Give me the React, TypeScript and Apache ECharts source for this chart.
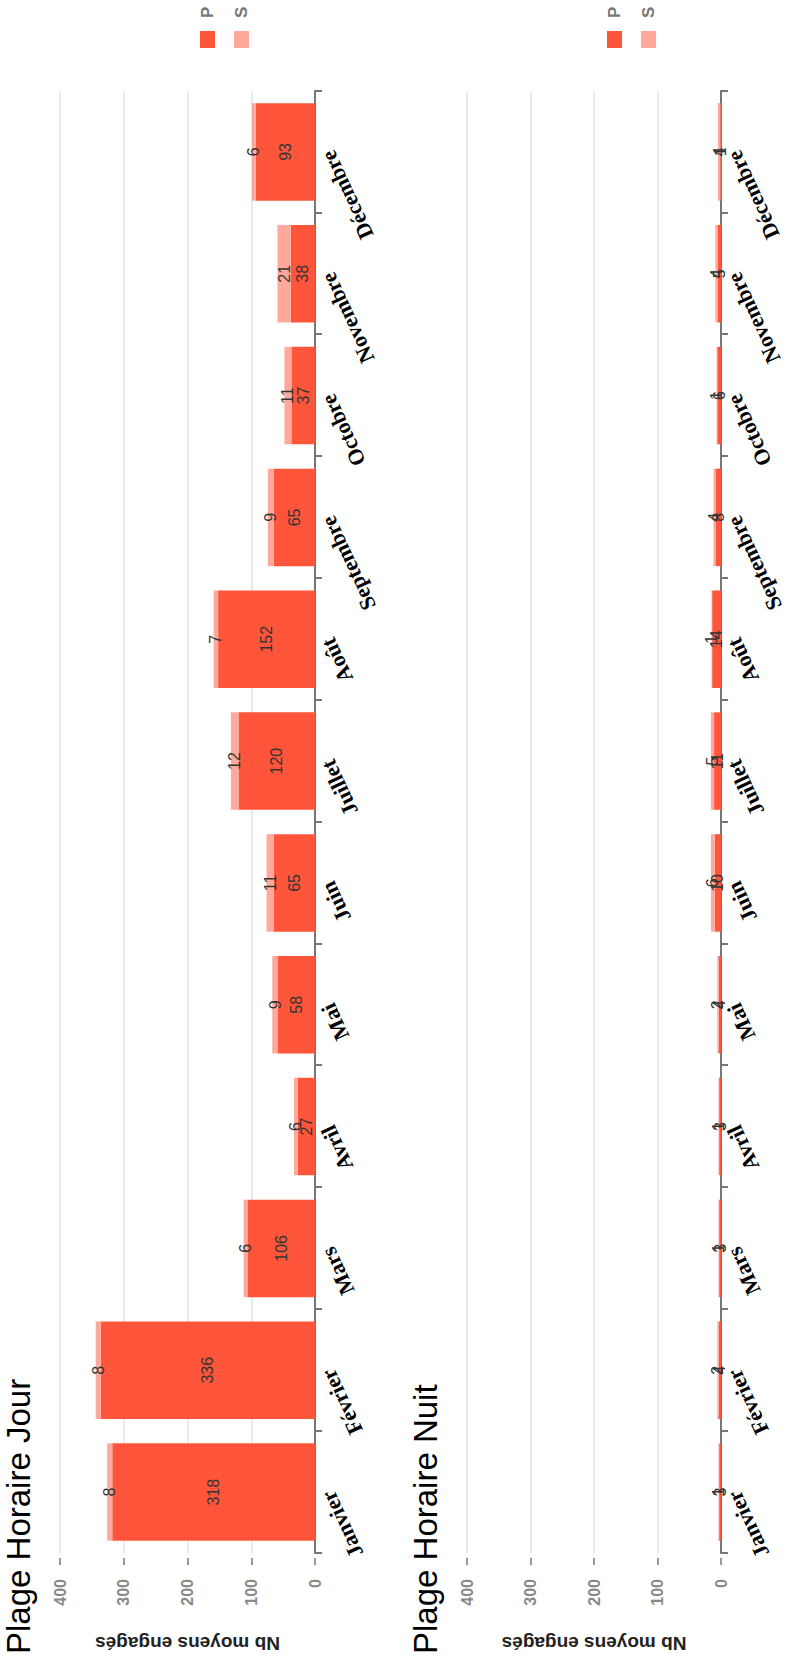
import React, { useEffect, useRef } from "react";
import * as echarts from "echarts";

// ---- data ----
const months = ["Janvier", "Février", "Mars", "Avril", "Mai", "Juin", "Juillet", "Août", "Septembre", "Octobre", "Novembre", "Décembre"];
const jourP = [318, 336, 106, 27, 58, 65, 120, 152, 65, 37, 38, 93];
const jourS = [8, 8, 6, 6, 9, 11, 12, 7, 9, 11, 21, 6];
const nuitP = [3, 4, 3, 3, 4, 10, 11, 14, 8, 6, 5, 1];
const nuitS = [1, 2, 1, 1, 2, 6, 5, 1, 4, 1, 4, 4];
const seriesNames = ["P", "S"];
const panelTitles = ["Plage Horaire Jour", "Plage Horaire Nuit"];
const valueAxisName = "Nb moyens engagés";
const valueMin = 0;
const valueMax = 400;
const valueInterval = 100;

// chart drawn in a 1664 x 787 frame, then turned a quarter turn
const W = 1664;
const H = 787;
const PANEL_OFFSET = 407;

const colorP = "#ff563b";
const colorS = "#ffa99c";

function buildOption() {
  const panels = [
    { p: jourP, s: jourS },
    { p: nuitP, s: nuitS },
  ];
  const grid: any[] = [];
  const xAxis: any[] = [];
  const yAxis: any[] = [];
  const series: any[] = [];
  const title: any[] = [];
  const legend: any[] = [];
  panels.forEach((panel, i) => {
    const off = i * PANEL_OFFSET;
    grid.push({ left: 111, right: 91, top: 60 + off, height: 255 });
    title.push({
      text: panelTitles[i],
      left: 10,
      top: 2 + off,
      padding: 0,
      textStyle: { fontFamily: "Liberation Sans, Arial, sans-serif", fontSize: 33, fontWeight: "normal", color: "#000" },
    });
    legend.push({
      data: seriesNames,
      orient: "vertical",
      left: 1616,
      top: 199 + off,
      padding: 0,
      itemWidth: 17,
      itemHeight: 15,
      itemGap: 17,
      icon: "rect",
      textStyle: {
        fontFamily: "Liberation Sans, Arial, sans-serif",
        fontSize: 17,
        fontWeight: "bold",
        color: "#777",
        lineHeight: 15,
        padding: [0, 0, 0, 8],
      },
    });
    xAxis.push({
      type: "category",
      gridIndex: i,
      data: months,
      boundaryGap: true,
      axisLine: { show: true, lineStyle: { color: "#777", width: 2 } },
      axisTick: { show: true, length: 7, alignWithLabel: false, lineStyle: { color: "#777", width: 2 } },
      axisLabel: {
        interval: 0,
        rotate: 25,
        margin: 12,
        fontFamily: "Liberation Serif, Times New Roman, serif",
        fontWeight: "bold",
        fontSize: 22,
        color: "#000",
      },
      splitLine: { show: false },
    });
    yAxis.push({
      type: "value",
      gridIndex: i,
      min: valueMin,
      max: valueMax,
      interval: valueInterval,
      offset: 5,
      name: valueAxisName,
      nameLocation: "middle",
      nameGap: 76,
      nameTextStyle: {
        fontFamily: "Liberation Sans, Arial, sans-serif",
        fontSize: 19,
        fontWeight: "bold",
        color: "#222",
      },
      axisLine: { show: false },
      axisTick: { show: true, length: 7, lineStyle: { color: "#999", width: 2 } },
      axisLabel: {
        margin: 21,
        fontFamily: "Liberation Sans, Arial, sans-serif",
        fontSize: 16,
        fontWeight: "bold",
        color: "#888",
      },
      splitLine: { show: true, lineStyle: { color: "#e3e3e3", width: 1.5 } },
    });
    const lbl = {
      show: true,
      position: "inside",
      color: "#333",
      fontFamily: "Liberation Sans, Arial, sans-serif",
      fontSize: 16,
    };
    series.push({
      type: "bar",
      name: seriesNames[0],
      stack: "st" + i,
      xAxisIndex: i,
      yAxisIndex: i,
      data: panel.p,
      barCategoryGap: "20%",
      itemStyle: { color: colorP },
      label: lbl,
    });
    series.push({
      type: "bar",
      name: seriesNames[1],
      stack: "st" + i,
      xAxisIndex: i,
      yAxisIndex: i,
      data: panel.s,
      barCategoryGap: "20%",
      itemStyle: { color: colorS },
      label: lbl,
    });
  });
  return {
    animation: false,
    backgroundColor: "#fff",
    title,
    legend,
    grid,
    xAxis,
    yAxis,
    series,
  };
}

export default function App() {
  const ref = useRef<HTMLDivElement>(null);
  useEffect(() => {
    if (!ref.current) return;
    const chart = echarts.init(ref.current, null, { renderer: "svg", width: W, height: H });
    chart.setOption(buildOption() as any);
    return () => chart.dispose();
  }, []);
  return (
    <div style={{ position: "absolute", left: 0, top: 0, width: H, height: W, overflow: "hidden", background: "#fff" }}>
      <div
        ref={ref}
        style={{
          position: "absolute",
          left: 0,
          top: 0,
          width: W,
          height: H,
          transformOrigin: "0 0",
          transform: `translate(0px, ${W}px) rotate(-90deg)`,
        }}
      />
    </div>
  );
}
